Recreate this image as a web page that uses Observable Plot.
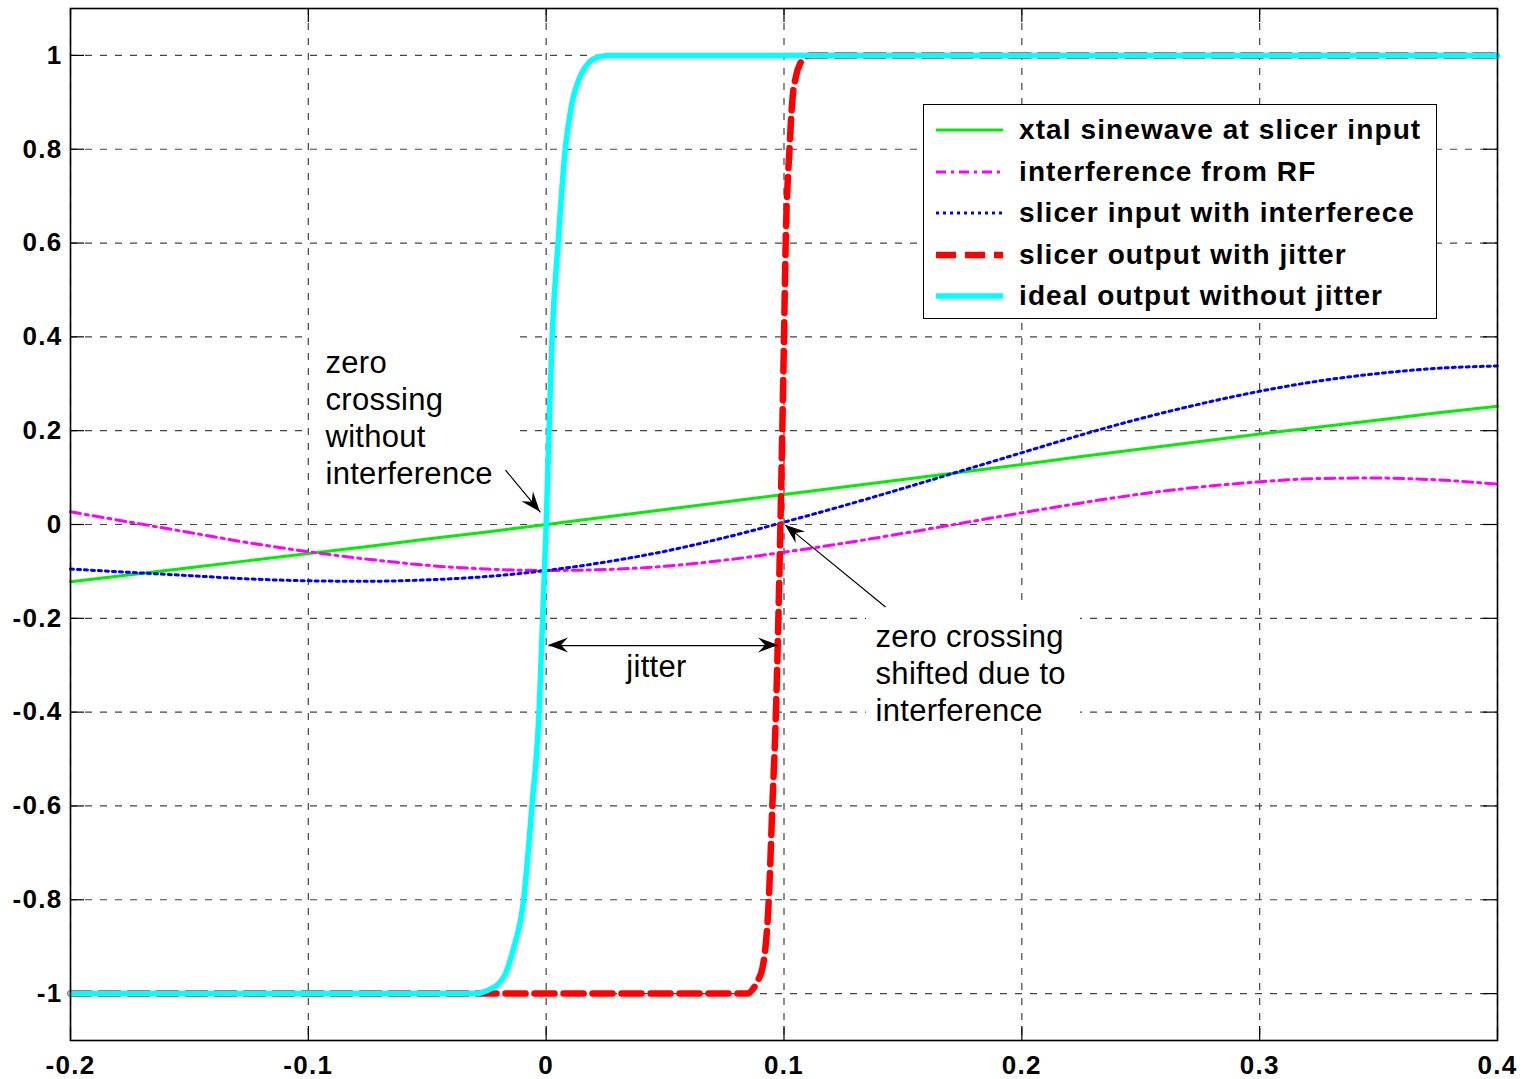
<!DOCTYPE html>
<html><head><meta charset="utf-8">
<script src="https://cdn.jsdelivr.net/npm/d3@7"></script>
<script src="https://cdn.jsdelivr.net/npm/@observablehq/plot@0.6"></script>
<style>
body{margin:0;background:#fff;}
#wrap{position:relative;width:1526px;height:1079px;}
#legend{position:absolute;left:923px;top:104px;width:512px;height:213px;border:1.5px solid #000;background:#fff;
  font-family:"Liberation Sans",Arial,sans-serif;font-weight:bold;font-size:28px;letter-spacing:1.1px;color:#000;}
.item{position:absolute;left:0;height:40px;width:512px;}
.item svg{position:absolute;left:12px;top:0;}
.item span{position:absolute;left:95px;top:4px;line-height:32px;white-space:nowrap;}
</style>
</head><body>
<div id="wrap"></div>
<script>
// ---- data ----
const xs = [-0.2,-0.175,-0.15,-0.125,-0.1,-0.075,-0.05,-0.025,0,0.025,0.05,0.075,0.1,0.125,0.15,0.175,0.2,0.225,0.25,0.275,0.3,0.325,0.35,0.375,0.4];
const xtal = [-0.122,-0.107,-0.092,-0.077,-0.062,-0.047,-0.031,-0.016,0,0.016,0.032,0.048,0.064,0.080,0.096,0.112,0.128,0.145,0.161,0.177,0.193,0.208,0.223,0.238,0.252];
const interf = [0.027,0.005,-0.017,-0.039,-0.058,-0.074,-0.087,-0.095,-0.098,-0.096,-0.089,-0.076,-0.059,-0.040,-0.019,0.003,0.025,0.046,0.065,0.080,0.091,0.098,0.099,0.095,0.086];
const slicerIn = [-0.095,-0.102,-0.109,-0.116,-0.120,-0.121,-0.118,-0.111,-0.098,-0.080,-0.057,-0.028,0.005,0.040,0.077,0.115,0.153,0.191,0.226,0.257,0.284,0.306,0.322,0.333,0.338];
const redX = [-0.2,0.0846,0.087,0.089,0.091,0.0936,0.0951,0.0966,0.0985,0.1,0.1007,0.1023,0.1035,0.105,0.107,0.109,0.111,0.4];
const redY = [-1,-1,-0.99,-0.972,-0.944,-0.8,-0.6,-0.4,0,0.4,0.6,0.8,0.904,0.955,0.985,0.997,1,1];
const cyanX = [-0.2,-0.03,-0.025,-0.018,-0.014,-0.0095,-0.006,-0.003,-0.0015,0,0.0012,0.0025,0.005,0.008,0.0105,0.0145,0.018,0.022,0.026,0.4];
const cyanY = [-1,-1,-0.994,-0.966,-0.908,-0.8,-0.6,-0.4,-0.2,0,0.2,0.4,0.6,0.8,0.89,0.958,0.985,0.997,1,1];
const xTicks = [-0.2,-0.1,0,0.1,0.2,0.3,0.4];
const yTicks = [-1,-0.8,-0.6,-0.4,-0.2,0,0.2,0.4,0.6,0.8,1];
const seriesNames = ["xtal sinewave at slicer input","interference from RF","slicer input with interferece","slicer output with jitter","ideal output without jitter"];
const notes = [
  {x:-0.0928, y:0.230, text:"zero\ncrossing\nwithout\ninterference"},
  {x:0.1385, y:-0.315, text:"zero crossing\nshifted due to\ninterference"},
  {x:0.0464, y:-0.304, text:"jitter", anchor:"middle"}
];
const noteBoxes = [
  {x1:-0.0991, x2:-0.0116, y1:0.051, y2:0.414},
  {x1:0.1347, x2:0.2247, y1:-0.435, y2:-0.177}
];
const arrows = [
  {x1:-0.0171, y1:0.116, x2:-0.0024, y2:0.026, both:false},
  {x1:0.1427, y1:-0.176, x2:0.1006, y2:-0.0014, both:false},
  {x1:0.001, y1:-0.258, x2:0.0977, y2:-0.258, both:true}
];

// ---- tables ----
const tab = (X, Y) => X.map((x, i) => ({x, y: Y[i]}));
const green = tab(xs, xtal), magenta = tab(xs, interf), blue = tab(xs, slicerIn);
const red = tab(redX, redY), cyan = tab(cyanX, cyanY);

const fmt = d => String(+d.toFixed(2));
const X0 = -0.2, X1 = 0.4, Y0 = -1.1, Y1 = 1.1;
const tkY = 14 / 468.65, tkX = 14 / 2378;
const grid = {stroke:"#444", strokeWidth:1.2, strokeDasharray:"7,8"};

const chart = Plot.plot({
  width: 1526, height: 1079,
  marginLeft: 70, marginRight: 29, marginTop: 8, marginBottom: 39,
  x: {domain:[X0,X1], ticks:xTicks, tickFormat:fmt, tickSize:0, tickPadding:15, label:null},
  y: {domain:[Y0,Y1], ticks:yTicks, tickFormat:fmt, tickSize:0, tickPadding:8, label:null},
  style: {fontFamily:"'Liberation Sans', Arial, sans-serif", fontSize:"26px", fontWeight:"bold", letterSpacing:"1.3px", color:"#000", background:"#fff", overflow:"visible"},
  marks: [
    Plot.ruleX(xTicks, {x:d=>d, ...grid}),
    Plot.ruleY(yTicks, {y:d=>d, ...grid}),
    Plot.ruleX(xTicks, {x:d=>d, y1:Y0, y2:Y0+tkY, stroke:"#000", strokeWidth:1.2}),
    Plot.ruleX(xTicks, {x:d=>d, y1:Y1-tkY, y2:Y1, stroke:"#000", strokeWidth:1.2}),
    Plot.ruleY(yTicks, {y:d=>d, x1:X0, x2:X0+tkX, stroke:"#000", strokeWidth:1.2}),
    Plot.ruleY(yTicks, {y:d=>d, x1:X1-tkX, x2:X1, stroke:"#000", strokeWidth:1.2}),
    Plot.rect(noteBoxes, {x1:"x1", x2:"x2", y1:"y1", y2:"y2", fill:"white"}),
    Plot.line(green, {x:"x", y:"y", stroke:"#00ee00", strokeWidth:3}),
    Plot.line(magenta, {x:"x", y:"y", stroke:"#ff00ff", strokeWidth:3, strokeDasharray:"10,5,3,5", curve:"monotone-x"}),
    Plot.line(blue, {x:"x", y:"y", stroke:"#0000ff", strokeWidth:3, strokeDasharray:"3,4", curve:"monotone-x"}),
    Plot.line(red, {x:"x", y:"y", stroke:"#ff0000", strokeWidth:6.5, strokeDasharray:"20,9", curve:"monotone-x"}),
    Plot.line(cyan, {x:"x", y:"y", stroke:"#00ffff", strokeWidth:5.5, curve:"monotone-x"}),
    Plot.link(arrows, {x1:"x1", y1:"y1", x2:"x2", y2:"y2", stroke:"#000", strokeWidth:1.2}),
    Plot.text(notes.filter(d=>!d.anchor), {x:"x", y:"y", text:"text", textAnchor:"start", lineAnchor:"middle", lineHeight:1.2, fontSize:31, fontWeight:"normal", fill:"#000"}),
    Plot.text(notes.filter(d=>d.anchor), {x:"x", y:"y", text:"text", textAnchor:"middle", lineAnchor:"middle", fontSize:31, fontWeight:"normal", fill:"#000"}),
    Plot.frame({stroke:"#000", strokeWidth:1.6})
  ]
});
d3.select(chart).selectAll("g[aria-label='text'] text").style("letter-spacing","0.3px");

// arrowheads (filled, MATLAB-like), positioned through Plot's own scales
const sx = chart.scale("x"), sy = chart.scale("y");
const svg = d3.select(chart);
function head(tx, ty, fx, fy) {
  const dx = tx - fx, dy = ty - fy, len = Math.hypot(dx, dy);
  const ux = dx/len, uy = dy/len, px = -uy, py = ux;
  const L = 20, W = 7.5, N = 13;
  const pts = [[tx,ty],[tx-L*ux+W*px, ty-L*uy+W*py],[tx-N*ux, ty-N*uy],[tx-L*ux-W*px, ty-L*uy-W*py]];
  svg.append("path").attr("d", "M" + pts.map(p=>p.join(",")).join("L") + "Z").attr("fill","#000");
}
for (const a of arrows) {
  const p1 = [sx.apply(a.x1), sy.apply(a.y1)], p2 = [sx.apply(a.x2), sy.apply(a.y2)];
  head(p2[0], p2[1], p1[0], p1[1]);
  if (a.both) head(p1[0], p1[1], p2[0], p2[1]);
}

const wrap = document.getElementById("wrap");
wrap.appendChild(chart);

// legend overlay
const styles = [
  {stroke:"#00ee00", w:3, dash:null},
  {stroke:"#ff00ff", w:3, dash:"10,5,3,5"},
  {stroke:"#0000ff", w:3, dash:"3,4"},
  {stroke:"#ff0000", w:6.5, dash:"20,9"},
  {stroke:"#00ffff", w:5.5, dash:null}
];
const lg = document.createElement("div");
lg.id = "legend";
seriesNames.forEach((name, i) => {
  const it = document.createElement("div");
  it.className = "item";
  it.style.top = (5 + i*41.5) + "px";
  const st = styles[i];
  it.innerHTML = `<svg width="67" height="40"><line x1="0" x2="67" y1="20" y2="20" stroke="${st.stroke}" stroke-width="${st.w}" ${st.dash?`stroke-dasharray="${st.dash}"`:""}/></svg><span>${name}</span>`;
  lg.appendChild(it);
});
wrap.appendChild(lg);
</script>
</body></html>
